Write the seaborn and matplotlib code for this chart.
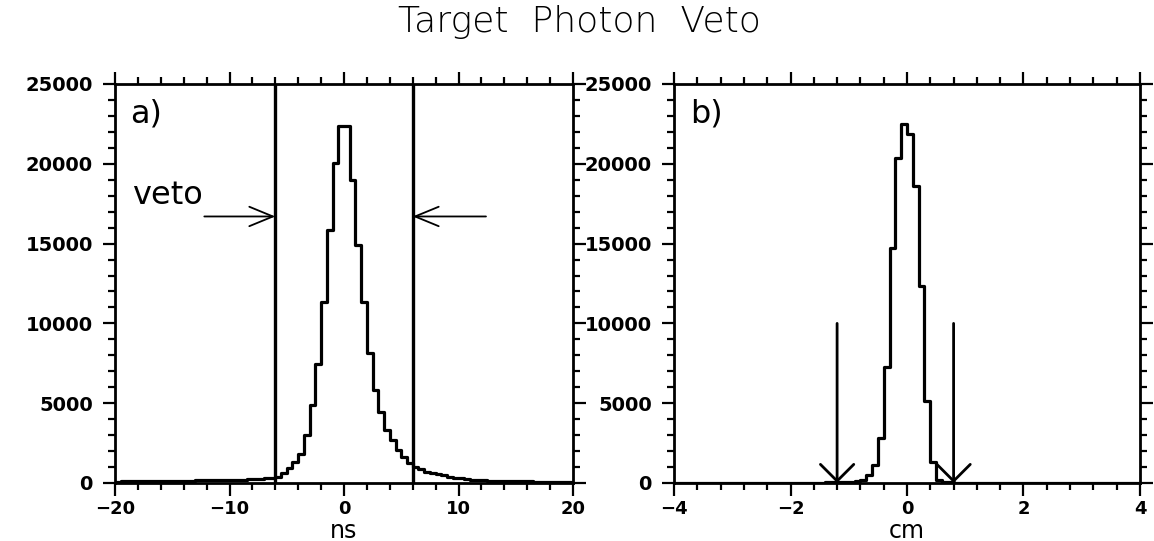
import numpy as np
import pandas as pd
import matplotlib
matplotlib.use("Agg")
import matplotlib.pyplot as plt
from matplotlib.ticker import MultipleLocator
import seaborn as sns

# ---------------- data ----------------
title = "Target  Photon  Veto"

# panel a) : timing (ns), 0.5 ns bins from -20 to 20
ns_lo, ns_hi, ns_nbins = -20, 20, 80
ns_counts = [
    90, 95, 100, 105, 110, 115, 120, 125, 130, 135,
    140, 145, 150, 155, 160, 165, 170, 175, 180, 185,
    190, 200, 210, 220, 235, 255, 285, 330,
    380, 610, 920, 1340, 1800, 3015, 4860, 7475, 11330, 15830,
    20040, 22340, 22340, 18990, 14910, 11330, 8140, 5840, 4420, 3330,
    2700, 2070, 1650, 1240,
    1030, 860, 720, 620, 540, 470, 400, 340, 290, 250,
    215, 185, 160, 145, 135, 125, 115, 110, 105, 100,
    95, 92, 90, 88, 86, 84, 82, 80,
]
veto_cuts_ns = [-6, 6]
veto_arrow_y = 16700

# panel b) : position (cm), 0.1 cm bins from -4 to 4
cm_lo, cm_hi, cm_nbins = -4, 4, 80
cm_counts = [
    10, 10, 10, 10, 10, 12, 12, 12, 12, 12,
    14, 14, 14, 15, 15, 16, 16, 18, 18, 20,
    20, 22, 24, 26, 28, 30, 34, 38, 44, 50,
    60, 100, 190, 500, 1130, 2840, 7290, 14740, 20340, 22490,
    21870, 18610, 12360, 5140, 1340, 200, 80, 40, 25,
    22, 20, 20, 18, 18, 16, 16, 15, 15, 14,
    14, 13, 13, 12, 12, 12, 11, 11, 10, 10,
    10, 10, 9, 9, 9, 8, 8, 8, 8, 8, 8,
]
cm_cuts = [-1.2, 0.8]
cm_arrow_top = 10000

x_ticks_a = [-20, -10, 0, 10, 20]
x_ticks_b = [-4, -2, 0, 2, 4]
y_ticks = [0, 5000, 10000, 15000, 20000, 25000]

# ---------------- style ----------------
sns.set_style("ticks")
plt.rcParams["font.family"] = ["DejaVu Sans"]
plt.rcParams["text.color"] = "black"
plt.rcParams["axes.labelcolor"] = "black"
plt.rcParams["xtick.color"] = "black"
plt.rcParams["ytick.color"] = "black"

fig = plt.figure(figsize=(11.54, 5.41), dpi=100)
W, H = 1154, 541
ax1 = fig.add_axes([115 / W, 58 / H, 458 / W, 399 / H])
ax2 = fig.add_axes([674 / W, 58 / H, 466 / W, 399 / H])

def draw_hist(ax, lo, hi, nb, counts):
    edges = np.linspace(lo, hi, nb + 1)
    df = pd.DataFrame({"x": 0.5 * (edges[:-1] + edges[1:]), "w": counts})
    sns.histplot(data=df, x="x", weights="w", bins=list(edges), element="step",
                 fill=False, color="black", linewidth=2.3, ax=ax)

draw_hist(ax1, ns_lo, ns_hi, ns_nbins, ns_counts)
draw_hist(ax2, cm_lo, cm_hi, cm_nbins, cm_counts)

for ax, xt, xminor, xlim in [(ax1, x_ticks_a, 2, (-20, 20)),
                             (ax2, x_ticks_b, 0.4, (-4, 4))]:
    ax.set_xlim(*xlim)
    ax.set_ylim(0, 25000)
    ax.set_xticks(xt)
    ax.set_yticks(y_ticks)
    ax.xaxis.set_minor_locator(MultipleLocator(xminor))
    ax.yaxis.set_minor_locator(MultipleLocator(1000))
    ax.tick_params(which="both", direction="out", top=True, right=True,
                   color="black", labelcolor="black", width=1.6)
    ax.tick_params(which="major", length=9)
    ax.tick_params(axis="x", which="major", labelsize=13, pad=3)
    ax.tick_params(axis="y", which="major", labelsize=14, pad=7)
    ax.tick_params(which="minor", length=5)
    for lab in ax.get_xticklabels() + ax.get_yticklabels():
        lab.set_fontweight("bold")
    for sp in ax.spines.values():
        sp.set_visible(True)
        sp.set_linewidth(2)
        sp.set_color("black")
    ax.set_ylabel("")

ax1.set_xlabel("ns", fontsize=17, color="black")
ax2.set_xlabel("cm", fontsize=17, color="black")
for ax in (ax1, ax2):
    ax.xaxis.set_label_coords(0.5, -0.121)
    ax.xaxis.label.set_va("center")

# panel a annotations
for c in veto_cuts_ns:
    ax1.axvline(c, color="black", linewidth=2.4)
arrow_kw = dict(arrowstyle="->,head_length=1.7,head_width=0.7",
                color="black", lw=1.3, shrinkA=0, shrinkB=0)
ax1.annotate("", xy=(veto_cuts_ns[0], veto_arrow_y), xytext=(-12.2, veto_arrow_y),
             arrowprops=arrow_kw)
ax1.annotate("", xy=(veto_cuts_ns[1], veto_arrow_y), xytext=(12.4, veto_arrow_y),
             arrowprops=arrow_kw)
ax1.text(0.037, 0.72, "veto", transform=ax1.transAxes, fontsize=23,
         ha="left", va="center", color="black")
ax1.text(0.033, 0.925, "a)", transform=ax1.transAxes, fontsize=23,
         ha="left", va="center", color="black")

# panel b annotations
arrow_kw_b = dict(arrowstyle="->,head_length=1.2,head_width=1.2",
                  color="black", lw=2.0, shrinkA=0, shrinkB=0)
for c in cm_cuts:
    ax2.annotate("", xy=(c, 0), xytext=(c, cm_arrow_top), arrowprops=arrow_kw_b)
ax2.text(0.034, 0.925, "b)", transform=ax2.transAxes, fontsize=23,
         ha="left", va="center", color="black")

fig.text(0.502, 1 - 22 / H, title, ha="center", va="center", fontsize=26,
         fontweight="light", color="black")

fig.savefig("out.png", dpi=100)
